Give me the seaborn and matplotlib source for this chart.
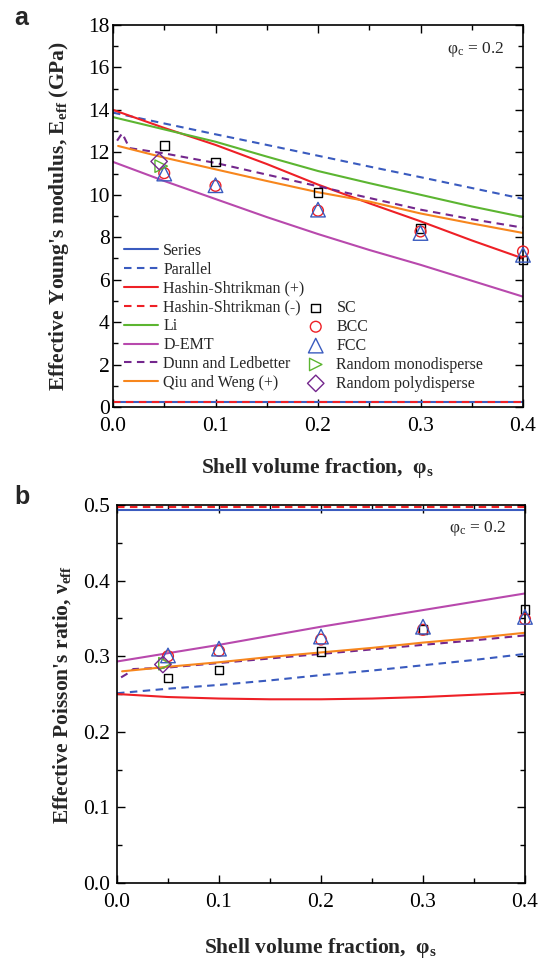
import numpy as np
import pandas as pd
import matplotlib
matplotlib.use("Agg")
import matplotlib.pyplot as plt
import seaborn as sns

sns.set_theme(style="white")
plt.rcParams['font.family'] = ['Liberation Serif', 'DejaVu Serif']
plt.rcParams['mathtext.fontset'] = 'custom'
plt.rcParams['mathtext.rm'] = 'Liberation Serif'
plt.rcParams['mathtext.bf'] = 'Liberation Serif:bold'
plt.rcParams['mathtext.it'] = 'Liberation Serif:italic'

# ---------------- data (panel a: Young's modulus, GPa) ----------------
x_curve = [0.0, 0.05, 0.10, 0.15, 0.20, 0.25, 0.30, 0.35, 0.40]
E_series = [0.22, 0.22, 0.22, 0.22, 0.22, 0.22, 0.22, 0.22, 0.22]
E_hs_minus = [0.24, 0.24, 0.24, 0.24, 0.24, 0.24, 0.24, 0.24, 0.24]
E_parallel = [13.87, 13.36, 12.85, 12.35, 11.84, 11.33, 10.83, 10.32, 9.81]
E_hs_plus = [14.0, 13.15, 12.35, 11.45, 10.48, 9.6, 8.75, 7.85, 7.0]
E_li = [13.66, 13.08, 12.5, 11.8, 11.12, 10.55, 10.0, 9.45, 8.95]
E_demt = [11.55, 10.65, 9.8, 8.95, 8.15, 7.4, 6.7, 5.95, 5.2]
x_dunn = [0.004, 0.009, 0.016, 0.05, 0.10, 0.15, 0.20, 0.25, 0.30, 0.35, 0.40]
E_dunn = [12.55, 12.9, 12.2, 11.95, 11.5, 10.95, 10.4, 9.85, 9.3, 8.85, 8.45]
x_qiu = [0.005, 0.05, 0.10, 0.15, 0.20, 0.25, 0.30, 0.35, 0.40]
E_qiu = [12.3, 11.75, 11.2, 10.65, 10.12, 9.68, 9.12, 8.65, 8.2]

x_lat = [0.05, 0.10, 0.20, 0.30, 0.40]
E_sc = [12.31, 11.54, 10.11, 8.42, 6.93]
E_bcc = [11.02, 10.42, 9.25, 8.27, 7.33]
E_fcc = [11.0, 10.45, 9.3, 8.2, 7.17]
x_mono = [0.047]
E_mono = [11.35]
x_poly = [0.045]
E_poly = [11.57]

# ---------------- data (panel b: Poisson's ratio) ----------------
v_series = [0.494, 0.494, 0.494, 0.494, 0.494, 0.494, 0.494, 0.494, 0.494]
v_hs_minus = [0.497, 0.497, 0.497, 0.497, 0.497, 0.497, 0.497, 0.497, 0.497]
v_parallel = [0.251, 0.257, 0.262, 0.268, 0.275, 0.281, 0.288, 0.295, 0.303]
v_hs_plus = [0.250, 0.246, 0.244, 0.243, 0.243, 0.244, 0.246, 0.249, 0.252]
v_demt = [0.293, 0.304, 0.315, 0.327, 0.339, 0.350, 0.361, 0.372, 0.383]
v_dunn = [0.272, 0.276, 0.283, 0.285, 0.291, 0.297, 0.303, 0.309, 0.315, 0.321, 0.3275]
v_qiu = [0.280, 0.286, 0.292, 0.299, 0.305, 0.311, 0.318, 0.324, 0.331]

v_sc = [0.271, 0.282, 0.306, 0.335, 0.362]
v_bcc = [0.300, 0.307, 0.322, 0.335, 0.349]
v_fcc = [0.301, 0.310, 0.326, 0.339, 0.352]
v_mono = [0.290]
v_poly = [0.289]

labels_lines = ["Series", "Parallel", "Hashin-Shtrikman (+)", "Hashin-Shtrikman (-)",
                "Li", "D-EMT", "Dunn and Ledbetter", "Qiu and Weng (+)"]
labels_pts = ["SC", "BCC", "FCC", "Random monodisperse", "Random polydisperse"]

C_BLUE = "#3a5bbf"
C_RED = "#ee2026"
C_GREEN = "#5cb531"
C_MAG = "#b849ad"
C_PURP = "#74278d"
C_ORANGE = "#f7861d"
LW = 1.5
DASH = (3.6, 2.6)

fig = plt.figure(figsize=(5.47, 9.6), dpi=100)
axA = fig.add_axes([113/547, 1-407/960, 410/547, 382/960])
axB = fig.add_axes([117/547, 1-883/960, 408/547, 378/960])


def draw(ax, series, hsm, par, hsp, li, demt, dunn, qiu, sc, bcc, fcc, mono, poly):
    line_specs = [
        (x_curve, series, C_BLUE, '-', labels_lines[0]),
        (x_curve, par, C_BLUE, '--', labels_lines[1]),
        (x_curve, hsp, C_RED, '-', labels_lines[2]),
        (x_curve, hsm, C_RED, '--', labels_lines[3]),
        (x_curve, li, C_GREEN, '-', labels_lines[4]),
        (x_curve, demt, C_MAG, '-', labels_lines[5]),
        (x_dunn, dunn, C_PURP, '--', labels_lines[6]),
        (x_qiu, qiu, C_ORANGE, '-', labels_lines[7]),
    ]
    for xs, ys, c, ls, lab in line_specs:
        if li is None and lab == "Li":
            continue
        kw = dict(dashes=DASH) if ls == '--' else {}
        sns.lineplot(x=xs, y=ys, ax=ax, color=c, linewidth=LW, label=lab,
                     estimator=None, sort=False, **kw)
    pt_specs = [
        (x_lat, sc, 's', 'black', 38, labels_pts[0]),
        (x_lat, bcc, 'o', C_RED, 60, labels_pts[1]),
        (x_lat, fcc, '^', C_BLUE, 110, labels_pts[2]),
        (x_mono, mono, '>', C_GREEN, 80, labels_pts[3]),
        (x_poly, poly, 'D', C_PURP, 70, labels_pts[4]),
    ]
    for xs, ys, m, c, s, lab in pt_specs:
        sns.scatterplot(x=xs, y=ys, ax=ax, marker=m, s=s, facecolor='none',
                        edgecolor=c, linewidth=1.0, label=lab, clip_on=False, zorder=5)


draw(axA, E_series, E_hs_minus, E_parallel, E_hs_plus, E_li, E_demt, E_dunn, E_qiu,
     E_sc, E_bcc, E_fcc, E_mono, E_poly)
draw(axB, v_series, v_hs_minus, v_parallel, v_hs_plus, None, v_demt, v_dunn, v_qiu,
     v_sc, v_bcc, v_fcc, v_mono, v_poly)

for ax in (axA, axB):
    ax.set_xlim(0, 0.4)
    ax.set_xticks([0.0, 0.1, 0.2, 0.3, 0.4])
    ax.set_xticks([0.05, 0.15, 0.25, 0.35], minor=True)
    ax.set_xticklabels(["0.0", "0.1", "0.2", "0.3", "0.4"])
    ax.tick_params(which='both', direction='in', top=True, right=True,
                   bottom=True, left=True, width=1.0, colors='black',
                   labelsize=15.5)
    ax.tick_params(axis='x', pad=7.5)
    ax.tick_params(which='major', length=6)
    ax.tick_params(which='minor', length=3.5)
    for sp in ax.spines.values():
        sp.set_color('black')
        sp.set_linewidth(1.2)
    ax.set_xlabel("Shell volume fraction,  φ$_{\\mathbf{s}}$", fontsize=15.5,
                  fontweight='bold')
    ax.text(0.955, 0.962, "φ$_{\\mathrm{c}}$ = 0.2", transform=ax.transAxes,
            ha='right', va='top', fontsize=12.5)

axA.tick_params(axis='y', pad=2.5)
axB.tick_params(axis='y', pad=5)

axA.set_ylim(0, 18)
axA.set_yticks(range(0, 19, 2))
axA.set_yticks(range(1, 18, 2), minor=True)
axA.set_ylabel("Effective Young's modulus, E$_{\\mathbf{eff}}$ (GPa)", fontsize=15.5,
               fontweight='bold')
axA.yaxis.set_label_coords(-0.102, 0.5)
axA.xaxis.set_label_coords(0.5, -0.128)

axB.set_ylim(0, 0.5)
axB.set_yticks([0.0, 0.1, 0.2, 0.3, 0.4, 0.5])
axB.set_yticklabels(["0.0", "0.1", "0.2", "0.3", "0.4", "0.5"])
axB.set_yticks([0.05, 0.15, 0.25, 0.35, 0.45], minor=True)
axB.set_ylabel("Effective Poisson's ratio, ν$_{\\mathbf{eff}}$", fontsize=15.5,
               fontweight='bold')
axB.yaxis.set_label_coords(-0.108, 0.5)
axB.xaxis.set_label_coords(0.5, -0.139)

# legends (panel a only)
handles, labels = axA.get_legend_handles_labels()
hmap = dict(zip(labels, handles))
for ax in (axA, axB):
    if ax.get_legend() is not None:
        ax.get_legend().remove()
leg1 = axA.legend([hmap[l] for l in labels_lines], labels_lines, loc='upper left',
                  bbox_to_anchor=(0.027, 0.43), frameon=False, fontsize=11.5,
                  handlelength=2.1, handletextpad=0.35, labelspacing=0.18,
                  borderpad=0, borderaxespad=0)
axA.add_artist(leg1)
leg2 = axA.legend([hmap[l] for l in labels_pts], labels_pts, loc='upper left',
                  bbox_to_anchor=(0.475, 0.28), frameon=False, fontsize=11.5,
                  handlelength=1.0, handletextpad=0.8, labelspacing=0.18,
                  borderpad=0, borderaxespad=0, scatterpoints=1)

fig.text(14/547, 1-18/960, "a", fontsize=18, fontweight='bold',
         family=['Liberation Sans', 'DejaVu Sans'], ha='left', va='center')
fig.text(14/547, 1-497/960, "b", fontsize=18, fontweight='bold',
         family=['Liberation Sans', 'DejaVu Sans'], ha='left', va='center')

fig.savefig("out.png", dpi=100)
